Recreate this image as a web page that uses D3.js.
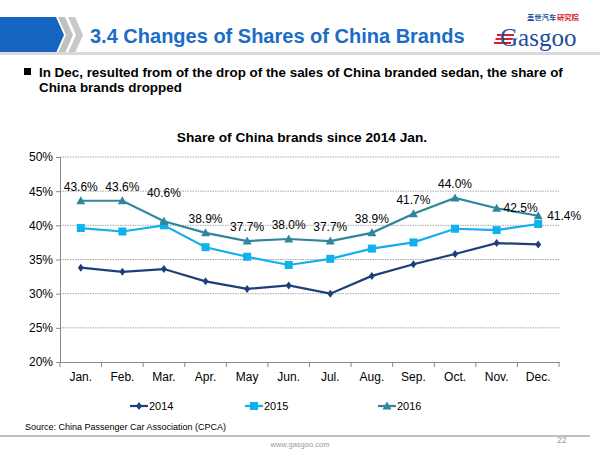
<!DOCTYPE html>
<html><head><meta charset="utf-8">
<script src="https://cdn.jsdelivr.net/npm/d3@7"></script>
<style>
body{margin:0;background:#fff;}
svg{display:block;font-family:"Liberation Sans",Arial,sans-serif;}
</style></head>
<body><svg id="c" width="600" height="450"></svg>
<script>
const months = ["Jan.","Feb.","Mar.","Apr.","May","Jun.","Jul.","Aug.","Sep.","Oct.","Nov.","Dec."];
const s2014 = [33.8,33.2,33.6,31.8,30.7,31.2,30.0,32.6,34.3,35.8,37.4,37.2];
const s2015 = [39.6,39.1,40.0,36.8,35.4,34.2,35.1,36.6,37.5,39.5,39.3,40.2];
const s2016 = [43.6,43.6,40.6,38.9,37.7,38.0,37.7,38.9,41.7,44.0,42.5,41.4];
const yTicks = [20,25,30,35,40,45,50];
const seriesNames = ["2014","2015","2016"];

const svg = d3.select("#c");

// Header
svg.append("path").attr("d","M0,17 H56 L64,35 L56,53 H0 Z").attr("fill","#1565c0");
svg.append("path").attr("d","M58,17 H65 L73,35 L65,53 H58 L66,35 Z").attr("fill","#c0c0c0");
svg.append("path").attr("d","M68,17 H75 L83,35 L75,53 H68 L76,35 Z").attr("fill","#c8c8c8");
svg.append("rect").attr("x",0).attr("y",52).attr("width",600).attr("height",3).attr("fill","#d9d9d9");
svg.append("text").attr("x",90).attr("y",43).attr("font-size",20).attr("font-weight","bold")
  .attr("fill","#1a6cc8").text("3.4 Changes of Shares of China Brands");

// Logo
const lg = svg.append("g");
lg.append("text").attr("x",527).attr("y",20).attr("font-family","Noto Sans CJK SC").attr("font-size",7.3).attr("font-weight","bold")
  .attr("fill","#1f4e9a").text("盖世汽车");
lg.append("text").attr("x",557).attr("y",20).attr("font-family","Noto Sans CJK SC").attr("font-size",7.3).attr("font-weight","bold")
  .attr("fill","#d6202a").text("研究院");
[0,1,2].forEach(i=>{
  lg.append("rect").attr("x",497-i*1.5).attr("y",34+i*4).attr("width",17).attr("height",2).attr("fill","#d6202a");
});
lg.append("text").attr("x",500).attr("y",46).attr("font-family","Liberation Serif,serif").attr("font-size",25)
  .attr("fill","#1f4e9a").text("Gasgoo");

// Bullet text
svg.append("rect").attr("x",24).attr("y",68).attr("width",7).attr("height",7).attr("fill","#000");
svg.append("text").attr("x",39).attr("y",77).attr("font-size",13.4).attr("font-weight","bold")
  .text("In Dec, resulted from of the drop of the sales of China branded sedan, the share of");
svg.append("text").attr("x",39).attr("y",92).attr("font-size",13.4).attr("font-weight","bold")
  .text("China brands dropped");

// Chart
const m = {l:60, r:559, t:157, b:362};
const x = d3.scaleBand().domain(months).range([m.l, m.r]);
const y = d3.scaleLinear().domain([20,50]).range([m.b, m.t]);

svg.append("text").attr("x",302).attr("y",142).attr("text-anchor","middle").attr("font-size",13.7)
  .attr("font-weight","bold").text("Share of China brands since 2014 Jan.");

const grid = svg.append("g");
yTicks.forEach(t=>{
  if(t===20) return;
  grid.append("line").attr("x1",m.l).attr("x2",m.r).attr("y1",y(t)).attr("y2",y(t))
    .attr("stroke","#a6a6a6").attr("stroke-width",1).attr("stroke-dasharray","1.5,1");
});

const yAxis = svg.append("g").attr("transform",`translate(${m.l},0)`)
  .call(d3.axisLeft(y).tickValues(yTicks).tickFormat(d=>d+"%").tickSize(4));
yAxis.select(".domain").attr("stroke","#888");
yAxis.selectAll(".tick line").attr("stroke","#888");
yAxis.selectAll("text").attr("font-size",12).attr("fill","#000").attr("font-family","Liberation Sans,Arial,sans-serif");

const xAxis = svg.append("g").attr("transform",`translate(0,${m.b})`)
  .call(d3.axisBottom(x).tickSize(0).tickPadding(10));
xAxis.select(".domain").attr("stroke","#888");
xAxis.selectAll("text").attr("font-size",12).attr("fill","#000").attr("font-family","Liberation Sans,Arial,sans-serif");
const bounds = months.map(d=>x(d)).concat([m.r]);
bounds.forEach(b=>{
  svg.append("line").attr("x1",b).attr("x2",b).attr("y1",m.b).attr("y2",m.b+5).attr("stroke","#888");
});

const cx = d=>x(d)+x.bandwidth()/2;
const colors = ["#1f3f7a","#10b0ee","#31869b"];
const data = [s2014,s2015,s2016];
const line = d3.line().x((d,i)=>cx(months[i])).y(d=>y(d));

function marker(g, type, px, py, col){
  if(type===0){
    g.append("path").attr("d",`M${px},${py-4} L${px+3},${py} L${px},${py+4} L${px-3},${py} Z`).attr("fill",col);
  } else if(type===1){
    g.append("rect").attr("x",px-4).attr("y",py-4).attr("width",8).attr("height",8).attr("fill",col);
  } else {
    g.append("path").attr("d",`M${px},${py-4.5} L${px+4.5},${py+3.5} L${px-4.5},${py+3.5} Z`).attr("fill",col);
  }
}

data.forEach((s,k)=>{
  const g = svg.append("g");
  g.append("path").datum(s).attr("d",line).attr("fill","none").attr("stroke",colors[k]).attr("stroke-width",2.2);
  s.forEach((v,i)=>marker(g,k,cx(months[i]),y(v),colors[k]));
});

// 2016 data labels
const labelPlace = {2:{dy:-24},10:{dx:24,dy:4},11:{dx:26,dy:4}};
s2016.forEach((v,i)=>{
  const p = labelPlace[i]||{};
  const px = cx(months[i]) + (p.dx||0);
  const py = y(v) + (p.dy!==undefined?p.dy:-10);
  svg.append("text").attr("x",px).attr("y",py).attr("text-anchor","middle").attr("font-size",12)
    .attr("fill","#000").text(v.toFixed(1)+"%");
});

// Legend
const legX = [130,245,378];
seriesNames.forEach((n,k)=>{
  const g = svg.append("g");
  const ly = 406;
  g.append("line").attr("x1",legX[k]).attr("x2",legX[k]+18).attr("y1",ly).attr("y2",ly).attr("stroke",colors[k]).attr("stroke-width",2.2);
  marker(g,k,legX[k]+9,ly,colors[k]);
  g.append("text").attr("x",legX[k]+19).attr("y",ly+4).attr("font-size",11).text(n);
});

// Footer
svg.append("text").attr("x",25).attr("y",430).attr("font-size",9).attr("fill","#000")
  .text("Source: China Passenger Car Association (CPCA)");
svg.append("rect").attr("x",0).attr("y",435).attr("width",590).attr("height",2).attr("fill","#bfbfbf");
svg.append("text").attr("x",300).attr("y",447).attr("text-anchor","middle").attr("font-size",7.5).attr("fill","#999")
  .text("www.gasgoo.com");
svg.append("text").attr("x",557).attr("y",443).attr("font-size",8.5).attr("fill","#999").text("22");
</script></body></html>
